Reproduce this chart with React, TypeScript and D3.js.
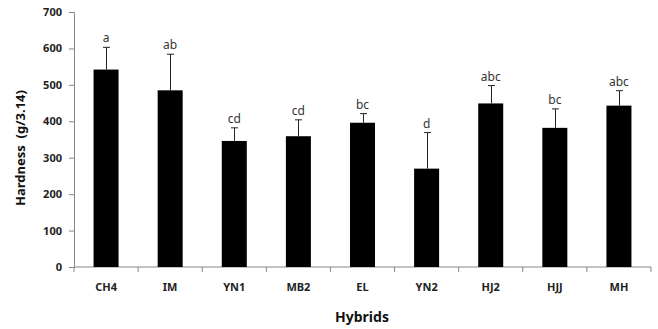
import * as d3 from "d3";
import React, { useRef, useEffect } from "react";

const hybrids = ["CH4", "IM", "YN1", "MB2", "EL", "YN2", "HJ2", "HJJ", "MH"];
const hardness = [542, 485, 346, 359, 396, 270, 449, 382, 443];
const errorTop = [603, 584, 382, 404, 421, 369, 498, 434, 484];
const letters = ["a", "ab", "cd", "cd", "bc", "d", "abc", "bc", "abc"];
const yTicks = [0, 100, 200, 300, 400, 500, 600, 700];

const Chart: React.FC = () => {
  const svgRef = useRef<SVGSVGElement>(null);

  useEffect(() => {
    const svg = d3.select(svgRef.current);
    svg.selectAll("*").remove();

    const width = 658;
    const height = 329;
    const marginLeft = 74;
    const marginRight = 7;
    const marginTop = 12;
    const marginBottom = 62;
    const font = "'Noto Sans', 'Liberation Sans', sans-serif";

    const x = d3.scaleBand<string>()
      .domain(hybrids)
      .range([marginLeft, width - marginRight])
      .paddingInner(0.61)
      .paddingOuter(0.305);

    const y = d3.scaleLinear()
      .domain([0, 700])
      .range([height - marginBottom, marginTop]);

    svg.attr("width", width).attr("height", height)
      .attr("viewBox", `0 0 ${width} ${height}`)
      .style("position", "absolute")
      .style("left", "0px")
      .style("top", "0px");

    // y axis
    svg.append("g")
      .attr("transform", `translate(${marginLeft},0)`)
      .call(d3.axisLeft(y).tickValues(yTicks).tickSize(5).tickPadding(7))
      .call(g => g.select(".domain").attr("stroke", "#888"))
      .call(g => g.selectAll(".tick line").attr("stroke", "#888"))
      .call(g => g.selectAll(".tick text")
        .attr("font-family", font)
        .attr("font-size", 11)
        .attr("font-weight", "bold")
        .attr("fill", "#222"));

    // x axis with ticks between categories
    const step = x.step();
    const xAxis = svg.append("g")
      .attr("transform", `translate(0,${height - marginBottom})`);
    xAxis.append("line")
      .attr("x1", marginLeft).attr("x2", width - marginRight)
      .attr("stroke", "#888");
    xAxis.selectAll("line.sep")
      .data(d3.range(hybrids.length + 1))
      .join("line")
      .attr("class", "sep")
      .attr("x1", i => marginLeft + i * step)
      .attr("x2", i => marginLeft + i * step)
      .attr("y1", 0).attr("y2", 5)
      .attr("stroke", "#888");
    xAxis.selectAll("text")
      .data(hybrids)
      .join("text")
      .attr("x", d => x(d)! + x.bandwidth() / 2)
      .attr("y", 24)
      .attr("text-anchor", "middle")
      .attr("font-family", font)
      .attr("font-size", 11)
      .attr("font-weight", "bold")
      .attr("fill", "#222")
      .text(d => d);

    // bars
    svg.append("g")
      .selectAll("rect")
      .data(hybrids)
      .join("rect")
      .attr("x", d => x(d)!)
      .attr("y", (d, i) => y(hardness[i]))
      .attr("width", x.bandwidth())
      .attr("height", (d, i) => y(0) - y(hardness[i]))
      .attr("fill", "black");

    // error bars
    const err = svg.append("g").attr("stroke", "#222").attr("stroke-width", 1);
    hybrids.forEach((d, i) => {
      const cx = Math.round(x(d)! + x.bandwidth() / 2) + 0.5;
      err.append("line")
        .attr("x1", cx).attr("x2", cx)
        .attr("y1", y(hardness[i])).attr("y2", y(errorTop[i]));
      err.append("line")
        .attr("x1", cx - 3.5).attr("x2", cx + 3.5)
        .attr("y1", y(errorTop[i])).attr("y2", y(errorTop[i]));
    });

    // significance letters
    svg.append("g")
      .selectAll("text")
      .data(hybrids)
      .join("text")
      .attr("x", d => x(d)! + x.bandwidth() / 2)
      .attr("y", (d, i) => y(errorTop[i]) - 5)
      .attr("text-anchor", "middle")
      .attr("font-family", font)
      .attr("font-size", 12)
      .attr("fill", "#333")
      .text((d, i) => letters[i]);

    // axis titles
    svg.append("text")
      .attr("transform", "translate(25,148) rotate(-90)")
      .attr("text-anchor", "middle")
      .attr("font-family", font)
      .attr("font-size", 13)
      .attr("font-weight", "bold")
      .attr("fill", "#111")
      .style("white-space", "pre")
      .text("Hardness  (g/3.14)");

    svg.append("text")
      .attr("x", 362)
      .attr("y", 322)
      .attr("text-anchor", "middle")
      .attr("font-family", font)
      .attr("font-size", 14)
      .attr("font-weight", "bold")
      .attr("fill", "#111")
      .text("Hybrids");
  }, []);

  return <svg ref={svgRef}></svg>;
};

export default function App() {
  return <Chart />;
}
